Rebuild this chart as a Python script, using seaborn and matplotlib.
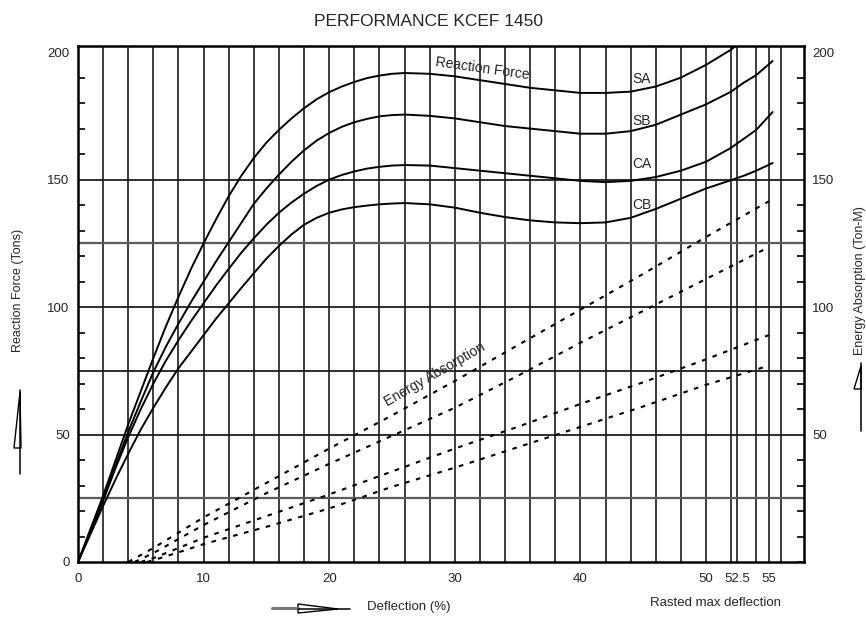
import matplotlib
matplotlib.use("Agg")
import matplotlib.pyplot as plt
from matplotlib.patches import Polygon
from matplotlib.lines import Line2D
from matplotlib.ticker import MultipleLocator
import pandas as pd
import seaborn as sns

# ---- Reaction force (tons) vs deflection (%) ----
defl_rf = [0, 1, 2, 3, 4, 5, 6, 7, 8, 9, 10, 11, 12, 13, 14, 15, 16, 17, 18, 19,
           20, 21, 22, 23, 24, 25, 26, 28, 30, 32, 34, 36, 38, 40, 42, 44, 46, 48, 50, 52]
force_sa = [0, 13, 26, 40, 54, 67, 80, 92.5, 104, 115, 125, 134.5, 143.5, 151.5, 158.5, 164.5, 169.5, 174, 178, 181.5,
            184.3, 186.5, 188.3, 189.8, 190.8, 191.5, 191.8, 191.5, 190.5, 189, 187.5, 186, 185, 184, 184, 184.5,
            186.5, 190, 195, 201]
force_sb = [0, 12.5, 25, 38, 51, 63, 74.5, 84.5, 93.5, 102, 110, 118, 125.5, 133, 140.5, 146.5, 152, 157, 161.5, 165.3,
            168.3, 170.7, 172.5, 173.8, 174.8, 175.3, 175.5, 175, 174, 172.5, 171, 170, 169, 168, 168, 169,
            171.5, 175.5, 179.5, 184.5]
force_ca = [0, 12, 24, 37, 49, 60, 70, 79, 87, 94.5, 101.5, 108.5, 115, 121.3, 127, 132.3, 137, 141, 144.5, 147.5,
            150, 151.8, 153.2, 154.3, 155, 155.5, 155.7, 155.5, 154.5, 153.5, 152.5, 151.5, 150.5, 149.5, 149, 149.5,
            151, 153.5, 157, 162.5]
force_cb = [0, 11, 22, 32.5, 42.5, 52, 60.5, 68.5, 76, 82.5, 89, 95.5, 101.5, 107.5, 113.3, 119, 124, 128.5, 132.3, 135,
            137, 138.3, 139.2, 139.8, 140.3, 140.6, 140.8, 140.3, 139, 137, 135.3, 134, 133.2, 132.9, 133.2, 135,
            138.5, 142.5, 146.5, 149.8]
# values past 52 % deflection, up to the end of each curve
tail_defl = [53, 54, 55.3]
tail_sa = [205, 209, 214]
tail_sb = [188, 191, 196.5]
tail_ca = [166, 169.5, 176.5]
tail_cb = [151.5, 153.5, 156.5]

# ---- Energy absorption (ton-m) vs deflection (%) ----
defl_ea = [6, 8, 10, 15, 20, 25, 30, 35, 40, 45, 50, 55]
energy_1 = [5.5, 11.5, 17.5, 31, 44.5, 57.5, 71, 85, 99, 113, 127.5, 141.5]
energy_2 = [3.5, 9, 14.5, 27, 38.5, 49.5, 60.5, 73, 86, 98.5, 111, 123.5]
energy_3 = [1.5, 5.5, 9.5, 18, 26.5, 35.5, 44.5, 53, 62, 70.5, 79.5, 89]
energy_4 = [0.7, 3.8, 7, 13.8, 21, 29.5, 37, 45, 53, 61, 69.5, 77]
energy_start = [4.0, 4.5, 5.0, 5.5]   # deflection where each energy curve leaves zero

grades = ["SA", "SB", "CA", "CB"]
grade_label_y = [189.5, 173, 156, 140]
x_tick_vals = [0, 10, 20, 30, 40, 50, 52.5, 55]
x_tick_text = ["0", "10", "20", "30", "40", "50", "52.5", "55"]
y_tick_vals = [0, 50, 100, 150, 200]

# ---- assemble long-form tables ----
rf_rows = []
for g, f, t in zip(grades, [force_sa, force_sb, force_ca, force_cb],
                   [tail_sa, tail_sb, tail_ca, tail_cb]):
    for x, y in zip(defl_rf + tail_defl, f + t):
        rf_rows.append({"grade": g, "deflection": x, "value": y})
df_rf = pd.DataFrame(rf_rows)

ea_rows = []
for g, e, s in zip(grades, [energy_1, energy_2, energy_3, energy_4], energy_start):
    ea_rows.append({"grade": g, "deflection": s, "value": 0.0})
    for x, y in zip(defl_ea, e):
        if x > s:
            ea_rows.append({"grade": g, "deflection": x, "value": y})
df_ea = pd.DataFrame(ea_rows)

# ---- figure ----
sns.set_style("white")
plt.rcParams["font.family"] = ["Liberation Sans", "DejaVu Sans"]

W, H = 866, 617
fig = plt.figure(figsize=(W / 100, H / 100), dpi=100)
ax = fig.add_axes([78 / W, 1 - 562 / H, (804 - 78) / W, (562 - 46) / H])

XMAX, YMAX = 57.8, 202.4
ax.set_xlim(0, XMAX)
ax.set_ylim(0, YMAX)

# chart grid
vgrid = [v for v in range(2, 57, 2)] + [52.5, 55]
for v in vgrid:
    ax.axvline(v, color="#1c1c1c", lw=1.2, zorder=1)
for h in [25, 50, 75, 100, 125, 150]:
    if h in (25, 125):
        ax.axhline(h, color="#5a5a5a", lw=1.6, zorder=1)
    else:
        ax.axhline(h, color="#1c1c1c", lw=1.3, zorder=1)

sns.lineplot(data=df_rf, x="deflection", y="value", units="grade", estimator=None,
             sort=False, color="black", lw=1.4, ax=ax, zorder=3)
sns.lineplot(data=df_ea, x="deflection", y="value", units="grade", estimator=None,
             sort=False, color="black", lw=1.5, ax=ax, zorder=3,
             linestyle=(0, (2.2, 3.2)))

# annotations on the curves
ax.text(32.2, 193.5, "Reaction Force", rotation=-8, ha="center", va="center", fontsize=10)
for g, gy in zip(grades, grade_label_y):
    ax.text(44.9, gy, g, ha="center", va="center", fontsize=10)
ax.text(28.4, 73.5, "Energy Absorption", rotation=30, ha="center", va="center", fontsize=10)

# axes styling
ax.set_xlabel("")
ax.set_ylabel("")
ax.set_xticks(x_tick_vals)
ax.set_xticklabels(x_tick_text, fontsize=9.5)
ax.set_yticks(y_tick_vals)
ax.set_yticklabels([str(v) for v in y_tick_vals], fontsize=9.5)
ax.yaxis.set_minor_locator(MultipleLocator(10))
ax.tick_params(axis="x", length=0, pad=8)
ax.tick_params(axis="y", which="major", direction="in", length=0, pad=6)
ax.tick_params(axis="y", which="minor", direction="in", length=5, width=1.2, color="black")
for s in ax.spines.values():
    s.set_color("black")
    s.set_linewidth(1.8)

ax2 = ax.twinx()
ax2.set_ylim(0, YMAX)
ax2.set_yticks([50, 100, 150, 200])
ax2.set_yticklabels(["50", "100", "150", "200"], fontsize=9.5)
ax2.yaxis.set_minor_locator(MultipleLocator(10))
ax2.tick_params(axis="y", which="major", direction="in", length=0, pad=6)
ax2.tick_params(axis="y", which="minor", direction="in", length=5, width=1.2, color="black")
for s in ax2.spines.values():
    s.set_visible(False)

# titles and axis captions
def fx(px):
    return px / W

def fy(py):
    return 1 - py / H

fig.text(fx(428), fy(22), "PERFORMANCE KCEF 1450", ha="center", va="center", fontsize=12.5)
fig.text(fx(18), fy(290), "Reaction Force (Tons)", rotation=90, ha="center", va="center", fontsize=9)
fig.text(fx(860), fy(281), "Energy Absorption (Ton-M)", rotation=90, ha="center", va="center", fontsize=9)
fig.text(fx(367), fy(607), "Deflection (%)", ha="left", va="center", fontsize=9.5)
fig.text(fx(650), fy(603), "Rasted max deflection", ha="left", va="center", fontsize=9.5)

# direction arrows beside the captions
def fig_line(pts, **kw):
    xs = [fx(p[0]) for p in pts]
    ys = [fy(p[1]) for p in pts]
    fig.add_artist(Line2D(xs, ys, transform=fig.transFigure, **kw))

def fig_tri(pts):
    fig.add_artist(Polygon([(fx(a), fy(b)) for a, b in pts], closed=True, fill=False,
                           edgecolor="black", lw=1.0, transform=fig.transFigure))

fig_line([(20, 390), (20, 474)], color="black", lw=1.1)
fig_tri([(20, 392), (14, 448), (21, 448)])

fig_line([(861, 363), (861, 431)], color="black", lw=1.1)
fig_tri([(861, 366), (854, 389), (861, 389)])

fig_line([(272, 608), (298, 608)], color="#777777", lw=2.2)
fig_line([(298, 609), (350, 609)], color="black", lw=1.1)
fig_tri([(298, 604), (298, 613), (338, 609)])

fig.savefig("out.png", dpi=100, facecolor="white")
